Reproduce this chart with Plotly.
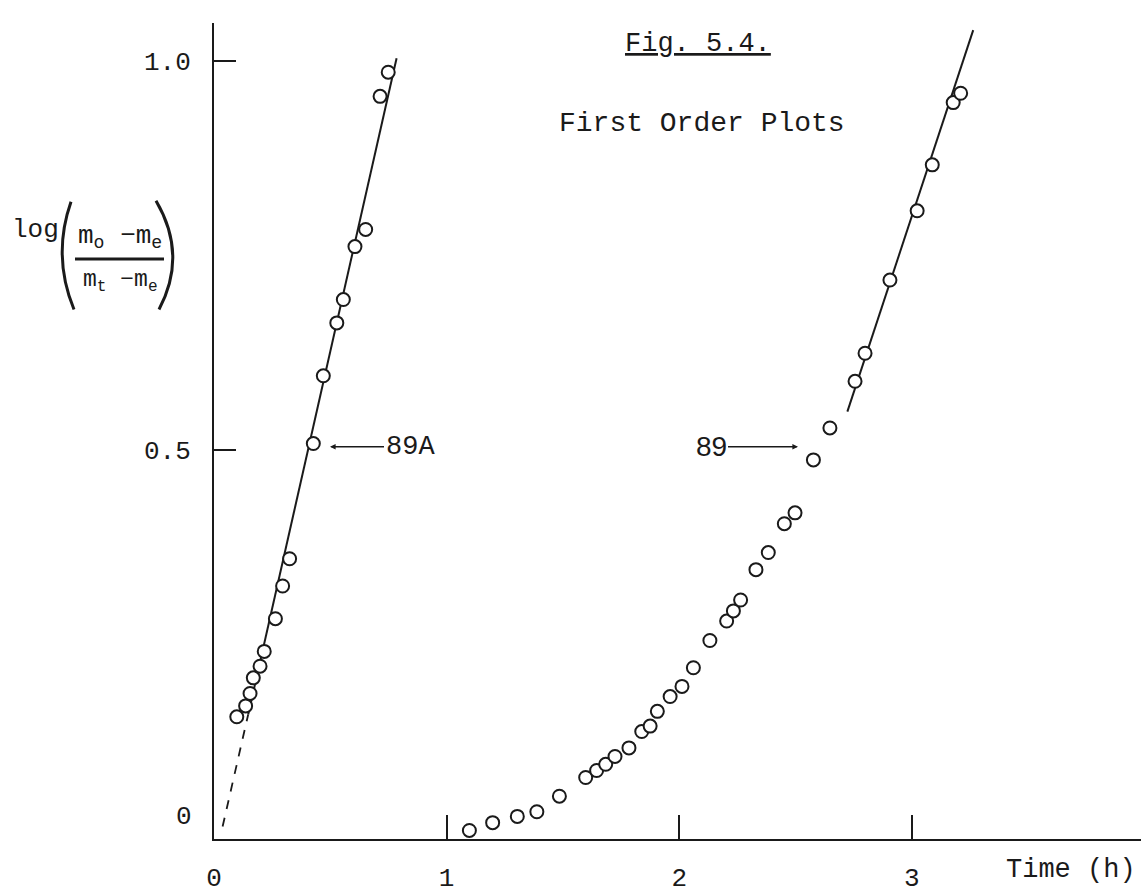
import plotly.graph_objects as go

# ---------------- data ----------------
# Series 89A
t_89A = [0.098, 0.136, 0.155, 0.169, 0.198, 0.216, 0.264, 0.295, 0.325, 0.427,
         0.470, 0.528, 0.556, 0.606, 0.652, 0.714, 0.749]
v_89A = [0.157, 0.171, 0.187, 0.207, 0.222, 0.241, 0.283, 0.325, 0.360, 0.508,
         0.595, 0.663, 0.693, 0.761, 0.783, 0.954, 0.985]

# Series 89
t_89 = [1.098, 1.198, 1.304, 1.388, 1.485, 1.598, 1.645, 1.684, 1.724, 1.784,
        1.839, 1.875, 1.906, 1.961, 2.012, 2.061, 2.132, 2.204, 2.233, 2.264,
        2.330, 2.383, 2.452, 2.498, 2.577, 2.648, 2.756, 2.799, 2.906, 3.023,
        3.088, 3.178, 3.210, 3.282]
v_89 = [0.011, 0.021, 0.029, 0.035, 0.055, 0.079, 0.088, 0.096, 0.106, 0.117,
        0.138, 0.145, 0.164, 0.183, 0.196, 0.220, 0.255, 0.280, 0.293, 0.307,
        0.346, 0.368, 0.405, 0.419, 0.487, 0.528, 0.588, 0.624, 0.718, 0.807,
        0.866, 0.946, 0.958, 1.054]

# Hand-drawn first-order fit lines (end points)
fit89A_solid_t = [0.147, 0.785]
fit89A_solid_v = [0.160, 1.003]
fit89A_dash_t = [0.037, 0.147]
fit89A_dash_v = [0.016, 0.160]
fit89_t = [2.723, 3.264]
fit89_v = [0.549, 1.039]

x_tickvals = [0, 1, 2, 3]
x_ticktext = ["0", "1", "2", "3"]
y_tickvals = [0.5, 1.0]
y_ticktext = ["0.5", "1.0"]

# ---------------- layout geometry ----------------
W, H = 1141, 894
L, R, T, B = 214, 0, 23, 45
PLOT_W = W - L - R
PLOT_H = H - T - B
X_MAX = PLOT_W / 232.6
Y_MAX = PLOT_H / 788.0

def px(p):   # pixel x -> paper
    return (p - L) / PLOT_W

def py(p):   # pixel y -> paper
    return (H - B - p) / PLOT_H

MONO = "Liberation Mono"
INK = "#1a1a1a"

fig = go.Figure()

fig.add_trace(go.Scatter(x=fit89A_dash_t, y=fit89A_dash_v, mode="lines",
                         line=dict(color=INK, width=1.8, dash="dash"),
                         showlegend=False, hoverinfo="skip"))
fig.add_trace(go.Scatter(x=fit89A_solid_t, y=fit89A_solid_v, mode="lines",
                         line=dict(color=INK, width=2),
                         showlegend=False, hoverinfo="skip"))
fig.add_trace(go.Scatter(x=fit89_t, y=fit89_v, mode="lines",
                         line=dict(color=INK, width=2),
                         showlegend=False, hoverinfo="skip"))

marker = dict(symbol="circle", size=13, color="white",
              line=dict(color=INK, width=2))
fig.add_trace(go.Scatter(x=t_89A, y=v_89A, mode="markers", name="89A",
                         marker=marker, showlegend=False, cliponaxis=False))
fig.add_trace(go.Scatter(x=t_89, y=v_89, mode="markers", name="89",
                         marker=marker, showlegend=False, cliponaxis=False))


def label(text, x, y, size=26, xanchor="center", family=MONO):
    return dict(text=text, xref="paper", yref="paper", x=px(x), y=py(y),
                xanchor=xanchor, yanchor="middle", showarrow=False,
                font=dict(family=family, size=size, color=INK))


annotations = [
    label("<u>Fig. 5.4.</u>", 698, 44, size=27),
    label("First Order Plots", 557, 125, size=28, xanchor="left"),
    label("0", 194, 827, size=26, xanchor="right"),
    label("Time (h)", 1071, 880, size=27),
    # y-axis label pieces: log( (m_o - m_e) / (m_t - m_e) )
    label("log", 35, 233, size=26),
    label("m<sub>o</sub> \u2212m<sub>e</sub>", 120, 240, size=26),
    label("m<sub>t</sub> \u2212m<sub>e</sub>", 120, 285, size=23),
    # series labels with arrows (ax/ay are pixel offsets of the text from the head)
    dict(text="89A", x=px(330), y=py(452), xref="paper", yref="paper",
         ax=80, ay=0, showarrow=True, arrowhead=2, arrowsize=0.8,
         arrowwidth=1.4, arrowcolor=INK,
         font=dict(family=MONO, size=27, color=INK)),
    dict(text="89", x=px(798), y=py(452), xref="paper", yref="paper",
         ax=-87, ay=0, showarrow=True, arrowhead=2, arrowsize=0.8,
         arrowwidth=1.4, arrowcolor=INK,
         font=dict(family="Liberation Sans", size=28, color=INK)),
]

shapes = [
    # fraction bar
    dict(type="line", xref="paper", yref="paper", x0=px(75), y0=py(262),
         x1=px(164), y1=py(262), line=dict(color=INK, width=3)),
    # left parenthesis
    dict(type="path", xref="paper", yref="paper",
         path=f"M {px(71)},{py(204)} Q {px(52)},{py(259)} {px(74)},{py(313)}",
         line=dict(color=INK, width=3)),
    # right parenthesis
    dict(type="path", xref="paper", yref="paper",
         path=f"M {px(156)},{py(203)} Q {px(188)},{py(258)} {px(159)},{py(313)}",
         line=dict(color=INK, width=3)),
]

fig.update_layout(
    width=W, height=H, autosize=False,
    margin=dict(l=L, r=R, t=T, b=B, pad=0),
    paper_bgcolor="white", plot_bgcolor="white",
    annotations=annotations, shapes=shapes,
    showlegend=False,
    font=dict(family=MONO, size=26, color=INK),
)
fig.update_xaxes(range=[0, X_MAX], showgrid=False, zeroline=False,
                 showline=True, linecolor=INK, linewidth=2,
                 ticks="inside", ticklen=24, tickwidth=2, tickcolor=INK,
                 tickvals=x_tickvals, ticktext=x_ticktext,
                 tickfont=dict(family=MONO, size=26, color=INK),
                 ticklabelstandoff=14)
fig.update_yaxes(range=[0, Y_MAX], showgrid=False, zeroline=False,
                 showline=True, linecolor=INK, linewidth=2,
                 ticks="inside", ticklen=22, tickwidth=2, tickcolor=INK,
                 tickvals=y_tickvals, ticktext=y_ticktext,
                 tickfont=dict(family=MONO, size=26, color=INK),
                 ticklabelstandoff=16)

fig.write_html("out.html", config={"displayModeBar": False},
               post_script="document.body.style.margin='0';")
